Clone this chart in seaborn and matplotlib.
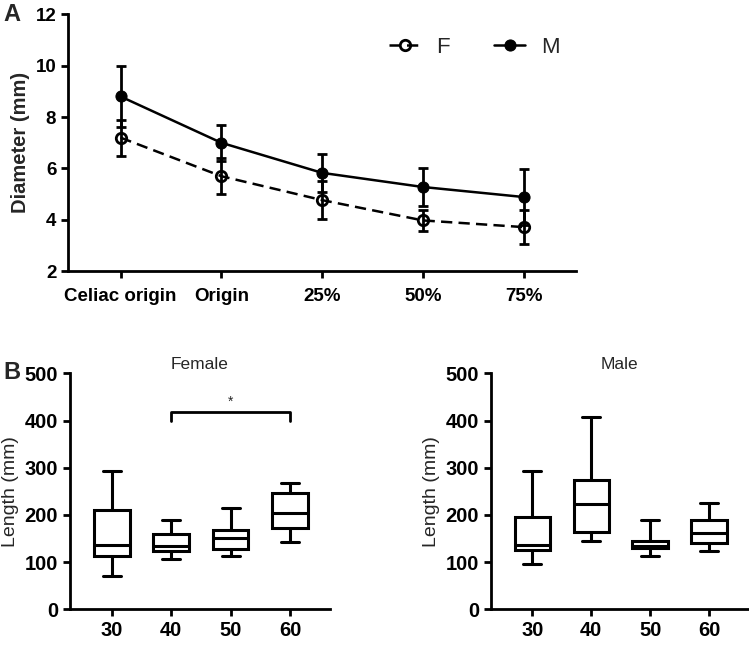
import numpy as np
import pandas as pd
import matplotlib
matplotlib.use('Agg')
import matplotlib.pyplot as plt
import seaborn as sns

# Panel A data: diameter (mm) mean and SD per site
sites = ['Celiac origin', 'Origin', '25%', '50%', '75%']
f_mean = [7.2, 5.7, 4.77, 3.98, 3.72]
f_sd = [0.7, 0.7, 0.75, 0.42, 0.65]
m_mean = [8.8, 7.0, 5.83, 5.28, 4.89]
m_sd = [1.2, 0.7, 0.75, 0.72, 1.1]

# Panel B data: five-number summaries of length (mm) by age group
ages = ['30', '40', '50', '60']
female_min = [71, 106, 114, 143]
female_q1 = [113, 124, 127, 172]
female_med = [137, 134, 152, 205]
female_q3 = [210, 160, 167, 246]
female_max = [292, 189, 214, 268]

male_min = [95, 145, 114, 124]
male_q1 = [126, 163, 129, 140]
male_med = [137, 223, 135, 162]
male_q3 = [196, 274, 144, 189]
male_max = [293, 407, 189, 225]

# significance bracket between 40 and 60 (female)
sig_pair = ['40', '60']
sig_y = [398, 419]

sns.set_style('ticks')
plt.rcParams['font.family'] = ['Liberation Sans', 'DejaVu Sans']
plt.rcParams['axes.linewidth'] = 2.0
plt.rcParams['xtick.major.width'] = 2.0
plt.rcParams['ytick.major.width'] = 2.0
plt.rcParams['xtick.major.size'] = 5
plt.rcParams['ytick.major.size'] = 5
plt.rcParams['axes.edgecolor'] = 'black'
plt.rcParams['xtick.color'] = 'black'
plt.rcParams['ytick.color'] = 'black'

fig = plt.figure(figsize=(7.49, 6.46), dpi=100)

# ---- Panel A ----
axA = fig.add_axes([0.091, 0.58, 0.678, 0.398])
sns.lineplot(x=sites, y=f_mean, ax=axA, color='black', sort=False, linewidth=1.8,
             linestyle=(0, (4.5, 2.5)), marker='o', markersize=7.5, markerfacecolor='none',
             markeredgecolor='black', markeredgewidth=2.0, label='F')
sns.lineplot(x=sites, y=m_mean, ax=axA, color='black', sort=False, linewidth=1.8,
             marker='o', markersize=8, markerfacecolor='black', markeredgecolor='black',
             label='M')
axA.errorbar(sites, f_mean, yerr=f_sd, fmt='none', ecolor='black', elinewidth=2.0,
             capsize=3.8, capthick=2.0)
axA.errorbar(sites, m_mean, yerr=m_sd, fmt='none', ecolor='black', elinewidth=2.0,
             capsize=3.8, capthick=2.0)
axA.set_xlim(-0.52, 4.52)
axA.set_ylim(2, 12)
axA.set_yticks(range(2, 13, 2))
axA.set_ylabel('Diameter (mm)', fontsize=14.5, fontweight='bold')
axA.tick_params(axis='x', pad=7)
for lab in axA.get_xticklabels() + axA.get_yticklabels():
    lab.set_fontweight('bold')
    lab.set_fontsize(13.5)
axA.legend(loc='center', bbox_to_anchor=(0.80, 0.872), ncol=2, frameon=False,
           fontsize=16, handlelength=1.4, handletextpad=0.7, columnspacing=2.0)
sns.despine(ax=axA)
fig.text(0.005, 0.977, 'A', fontsize=17, fontweight='bold', va='center')

# ---- Panel B ----
def five_num_frame(mins, q1s, meds, q3s, maxs):
    rows = []
    for i, a in enumerate(ages):
        for v in (mins[i], q1s[i], meds[i], q3s[i], maxs[i]):
            rows.append({'age': a, 'length': v})
    return pd.DataFrame(rows)

female_df = five_num_frame(female_min, female_q1, female_med, female_q3, female_max)
male_df = five_num_frame(male_min, male_q1, male_med, male_q3, male_max)

axF = fig.add_axes([0.0935, 0.0568, 0.347, 0.3653])
axM = fig.add_axes([0.6555, 0.0568, 0.344, 0.3653])

for ax, df, title in [(axF, female_df, 'Female'), (axM, male_df, 'Male')]:
    sns.boxplot(data=df, x='age', y='length', order=ages, whis=(0, 100), width=0.6,
                color='white', linecolor='black', linewidth=2.2, ax=ax)
    ax.set_xlim(-0.7, 3.67)
    ax.set_ylim(0, 500)
    ax.set_yticks(range(0, 501, 100))
    ax.set_xlabel('')
    ax.set_ylabel('Length (mm)', fontsize=14)
    ax.set_title(title, fontsize=12.5, pad=3)
    for lab in ax.get_xticklabels() + ax.get_yticklabels():
        lab.set_fontweight('bold')
        lab.set_fontsize(14.5)
    sns.despine(ax=ax)

x0, x1 = ages.index(sig_pair[0]), ages.index(sig_pair[1])
axF.plot([x0, x0, x1, x1], [sig_y[0], sig_y[1], sig_y[1], sig_y[0]], color='black', linewidth=2.0)
axF.text((x0 + x1) / 2, sig_y[1] + 6, '*', ha='center', va='bottom', fontsize=10)

fig.text(0.005, 0.423, 'B', fontsize=17, fontweight='bold', va='center')

fig.savefig('out.png', dpi=100)
